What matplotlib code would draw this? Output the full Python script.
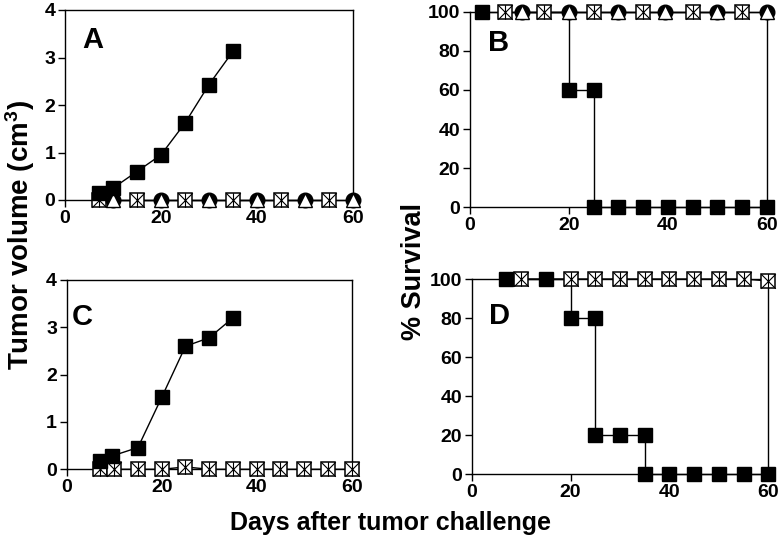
import numpy as np
import matplotlib
matplotlib.use('Agg')
import matplotlib.pyplot as plt
from matplotlib.path import Path

plt.rcParams['font.family'] = ['Liberation Sans', 'DejaVu Sans']
plt.rcParams['font.weight'] = 'bold'
plt.rcParams['mathtext.default'] = 'regular'

# Panel A - tumor volume
A_sq_x = [7, 10, 15, 20, 25, 30, 35]
A_sq_y = [0.15, 0.25, 0.6, 0.95, 1.62, 2.43, 3.13]
A_box_x = [7, 15, 25, 35, 45, 55]
A_box_y = [0, 0, 0, 0, 0, 0]
A_tri_x = [10, 20, 30, 40, 50, 60]
A_tri_y = [0, 0, 0, 0, 0, 0]

# Panel B - survival
B_sq_x = [2.5, 20, 25, 25, 30, 35, 40, 45, 50, 55, 60]
B_sq_y = [100, 60, 60, 0, 0, 0, 0, 0, 0, 0, 0]
B_box_x = [7, 15, 25, 35, 45, 55]
B_box_y = [100, 100, 100, 100, 100, 100]
B_tri_x = [10.5, 20, 30, 39.5, 50, 60]
B_tri_y = [100, 100, 100, 100, 100, 100]

# Panel C - tumor volume
C_sq_x = [7, 9.5, 15, 20, 25, 30, 35]
C_sq_y = [0.18, 0.28, 0.46, 1.52, 2.6, 2.78, 3.2]
C_box_x = [7, 10, 15, 20, 25, 30, 35, 40, 45, 50, 55, 60]
C_box_y = [0, 0, 0, 0, 0.05, 0, 0, 0, 0, 0, 0, 0]

# Panel D - survival
D_sq_x = [7, 15, 20, 25, 25, 30, 35, 35, 40, 45, 50, 55, 60]
D_sq_y = [100, 100, 80, 80, 20, 20, 20, 0, 0, 0, 0, 0, 0]
D_box_x = [10, 20, 25, 30, 35, 40, 45, 50, 55, 60]
D_box_y = [100, 100, 100, 100, 100, 100, 100, 100, 100, 99]

MS = 10.5
cross = Path([(-1, -1), (1, 1), (-1, 1), (1, -1), (0, -1), (0, 1)],
             [Path.MOVETO, Path.LINETO, Path.MOVETO, Path.LINETO, Path.MOVETO, Path.LINETO])


def sq(ax, x, y, step=False):
    ax.plot(x, y, color='black', lw=1, drawstyle='steps-post' if step else 'default',
            zorder=2, clip_on=False)
    ax.plot(x, y, ls='none', marker='s', ms=MS, mfc='black', mec='black', zorder=5, clip_on=False)


def box(ax, x, y):
    ax.plot(x, y, color='black', lw=1, zorder=2, clip_on=False)
    ax.plot(x, y, ls='none', marker='s', ms=MS, mfc='white', mec='black', mew=1.1,
            zorder=3, clip_on=False)
    ax.plot(x, y, ls='none', marker=cross, ms=MS, mfc='none', mec='black', mew=0.8,
            zorder=3.5, clip_on=False)


def tri(ax, x, y):
    ax.plot(x, y, color='black', lw=1, zorder=2, clip_on=False)
    ax.plot(x, y, ls='none', marker='o', ms=MS, mfc='black', mec='black', zorder=4, clip_on=False)
    ax.plot(x, y, ls='none', marker='^', ms=MS, mfc='white', mec='black', mew=1,
            zorder=4.5, clip_on=False)


def style(ax, ymax, yticks):
    ax.set_xlim(0, 60)
    ax.set_ylim(0, ymax)
    ax.set_xticks([0, 20, 40, 60])
    ax.set_yticks(yticks)
    ax.tick_params(direction='out', length=5, width=1, labelsize=14, pad=2)
    for lab in ax.get_xticklabels() + ax.get_yticklabels():
        lab.set_fontweight('bold')
    for s in ax.spines.values():
        s.set_linewidth(1)


fig = plt.figure(figsize=(7.79, 5.37), dpi=100)

axA = fig.add_axes([65 / 779, 1 - 200 / 537, 288 / 779, 190 / 537])
axB = fig.add_axes([470 / 779, 1 - 207.3 / 537, 296.7 / 779, 195.6 / 537])
axC = fig.add_axes([66.7 / 779, 1 - 469.3 / 537, 285 / 779, 189.3 / 537])
axD = fig.add_axes([471.7 / 779, 1 - 474.3 / 537, 296.6 / 779, 195.3 / 537])

box(axA, A_box_x, A_box_y)
tri(axA, A_tri_x, A_tri_y)
sq(axA, A_sq_x, A_sq_y)
style(axA, 4, [0, 1, 2, 3, 4])
axA.text(3.5, 3.2, 'A', fontsize=21, fontweight='bold')

sq(axB, B_sq_x, B_sq_y, step=True)
box(axB, B_box_x, B_box_y)
tri(axB, B_tri_x, B_tri_y)
style(axB, 100, [0, 20, 40, 60, 80, 100])
axB.text(3.7, 80, 'B', fontsize=21, fontweight='bold')

box(axC, C_box_x, C_box_y)
sq(axC, C_sq_x, C_sq_y)
style(axC, 4, [0, 1, 2, 3, 4])
axC.text(1.0, 3.05, 'C', fontsize=21, fontweight='bold')

sq(axD, D_sq_x, D_sq_y, step=True)
box(axD, D_box_x, D_box_y)
style(axD, 100, [0, 20, 40, 60, 80, 100])
axD.text(3.4, 77, 'D', fontsize=21, fontweight='bold')

fig.text(20 / 779, 1 - 235 / 537, 'Tumor volume (cm$^3$)', rotation=90, ha='center', va='center',
         fontsize=20, fontweight='bold')
fig.text(414 / 779, 1 - 271 / 537, '% Survival', rotation=90, ha='center', va='center',
         fontsize=19.5, fontweight='bold')
fig.text(390 / 779, 1 - 530 / 537, 'Days after tumor challenge', ha='center', va='baseline',
         fontsize=18, fontweight='bold')

fig.savefig('out.png', dpi=100)
